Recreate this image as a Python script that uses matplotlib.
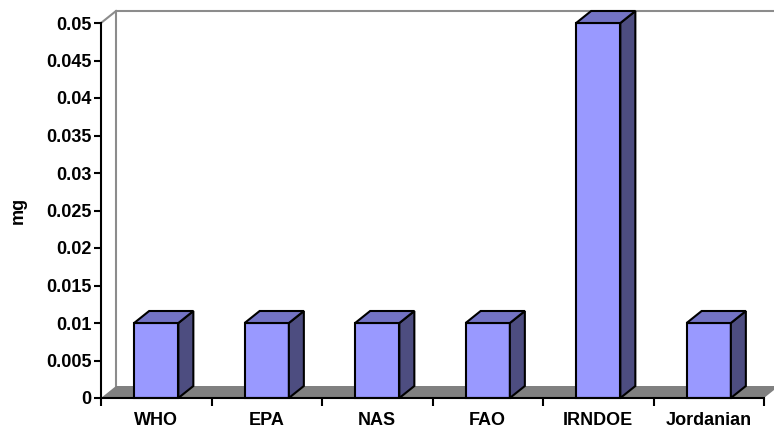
'''Bar chart of mg limits by standard, drawn with a fake 3D look'''
import matplotlib
matplotlib.use("Agg")
import matplotlib.pyplot as plt
from matplotlib.patches import Polygon

plt.rcParams['font.family'] = ['Liberation Sans', 'DejaVu Sans']

# Data
categories = ['WHO', 'EPA', 'NAS', 'FAO', 'IRNDOE', 'Jordanian']
values = [0.01, 0.01, 0.01, 0.01, 0.05, 0.01]
yticks = [0, 0.005, 0.01, 0.015, 0.02, 0.025, 0.03, 0.035, 0.04, 0.045, 0.05]

# Colours
FRONT = '#9999ff'
TOP = '#7373c4'
SIDE = '#4d4d80'
FLOOR = '#808080'
WALL = '#8c8c8c'

fig = plt.figure(figsize=(7.74, 4.32), dpi=100)
ax = fig.add_axes([101 / 774, 34 / 432, 663 / 774, 375 / 432])
n = len(categories)
ax.set_xlim(0, n)
ax.set_ylim(0, 0.05)

# depth offset of the 3D effect in data units (about 15 px right, 12 px up)
dx = 15 / 110.5
dy = 12 / 7500

# back wall lines
ax.plot([dx, dx, n + dx + 1], [dy, 0.05 + dy, 0.05 + dy], color=WALL, lw=1.5, clip_on=False, zorder=1)
ax.plot([0, dx], [0.05, 0.05 + dy], color=WALL, lw=1.5, clip_on=False, zorder=1)

# floor
ax.add_patch(Polygon([(0, 0), (n, 0), (n + dx, dy), (dx, dy)], closed=True,
                     facecolor=FLOOR, edgecolor='none', clip_on=False, zorder=1))

width = 0.4
for i, v in enumerate(values):
    x0 = i + 0.5 - width / 2
    x1 = x0 + width
    ax.bar(i + 0.5, v, width=width, color=FRONT, edgecolor='black', linewidth=1.5,
           clip_on=False, zorder=3)
    ax.add_patch(Polygon([(x1, 0), (x1 + dx, dy), (x1 + dx, v + dy), (x1, v)], closed=True,
                         facecolor=SIDE, edgecolor='black', linewidth=1.5, clip_on=False, zorder=3))
    ax.add_patch(Polygon([(x0, v), (x0 + dx, v + dy), (x1 + dx, v + dy), (x1, v)], closed=True,
                         facecolor=TOP, edgecolor='black', linewidth=1.5, clip_on=False, zorder=3))

# axes styling
for side in ['top', 'right']:
    ax.spines[side].set_visible(False)
ax.spines['left'].set_linewidth(1.5)
ax.spines['bottom'].set_linewidth(1.5)
ax.spines['left'].set_zorder(5)
ax.spines['bottom'].set_zorder(5)

ax.set_yticks(yticks)
ax.set_yticklabels([f"{t:g}" for t in yticks], fontsize=13, fontweight='bold')
ax.set_xticks(range(n + 1))
ax.set_xticklabels([])
ax.set_xticks([i + 0.5 for i in range(n)], minor=True)
ax.set_xticklabels(categories, minor=True, fontsize=13, fontweight='bold')
ax.tick_params(axis='x', which='minor', length=0, pad=10)
ax.tick_params(axis='x', which='major', length=6, width=1.5, direction='out')
ax.tick_params(axis='y', length=5, width=1.5, direction='out', pad=2)

fig.text(18 / 774, 1 - 210 / 432, 'mg', rotation=90, ha='center', va='center',
         fontsize=13, fontweight='bold')

fig.savefig('out.png', dpi=100)
